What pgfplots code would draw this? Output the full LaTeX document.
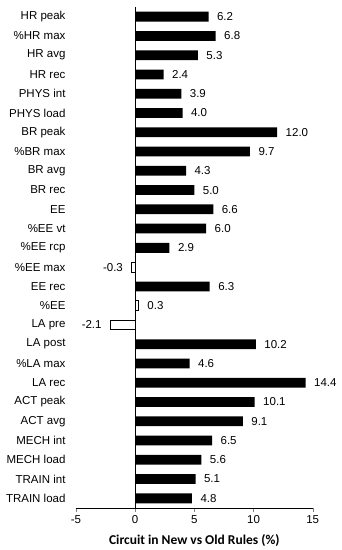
\documentclass[border=0pt]{standalone}
\usepackage{fontspec}
\setmainfont{Liberation Sans}
\newfontfamily\carlito{Carlito}
\usepackage{pgfplots}
\usepackage{pgfplotstable}
\pgfplotsset{compat=1.18}
% y position (25 = top), value
\pgfplotstableread{
y v
25 6.2
24 6.8
23 5.3
22 2.4
21 3.9
20 4.0
19 12.0
18 9.7
17 4.3
16 5.0
15 6.6
14 6.0
13 2.9
11 6.3
8 10.2
7 4.6
6 14.4
5 10.1
4 9.1
3 6.5
2 5.6
1 5.1
0 4.8
}\blackdata
\pgfplotstableread{
y v
10 0.3
}\whitesmall
\pgfplotstableread{
y v
12 -0.3
9 -2.1
}\whiteneg
\begin{document}
\begin{tikzpicture}
\begin{axis}[
  at={(76pt,42pt)}, anchor=south west,
  scale only axis, width=236.7pt, height=501pt,
  xmin=-5, xmax=15, ymin=-0.5, ymax=25.5,
  axis lines*=left,
  y axis line style={draw=none},
  ytick style={draw=none},
  xtick={-5,0,5,10,15},
  tick align=outside,
  major tick length=4pt,
  ytick={0,...,25},
  yticklabels={TRAIN load, TRAIN int, MECH load, MECH int, ACT avg, ACT peak, LA rec, \%LA max, LA post, LA pre, \%EE, EE rec, \%EE max, \%EE rcp, \%EE vt, EE, BR rec, BR avg, \%BR max, BR peak, PHYS load, PHYS int, HR rec, HR avg, \%HR max, HR peak},
  yticklabel style={font=\fontsize{11.5}{13}\selectfont, xshift=-3pt},
  xticklabel style={font=\fontsize{11.5}{13}\selectfont},
  /pgf/number format/assume math mode=true,
  xlabel={\carlito\bfseries Circuit in New vs Old Rules (\%)},
  xlabel style={font=\fontsize{13.5}{15}\selectfont, yshift=-4pt},
  xbar, bar width=9.8pt, bar shift=0pt,
  point meta=x,
  nodes near coords={\pgfmathprintnumber[fixed,fixed zerofill,precision=1,assume math mode=true]{\pgfplotspointmeta}},
  every node near coord/.append style={font=\fontsize{11.5}{13}\selectfont, anchor=west, xshift=5pt},
  clip=false,
]
\addplot[fill=black, draw=none] table[x=v, y=y] {\blackdata};
\addplot[fill=white, draw=black, line width=0.8pt] table[x=v, y=y] {\whitesmall};
\addplot[fill=white, draw=black, line width=0.8pt, every node near coord/.append style={anchor=east, xshift=-10pt}] table[x=v, y=y] {\whiteneg};
\draw[black, line width=0.9pt] (axis cs:0,-0.5) -- (axis cs:0,25.5);
\end{axis}
\pgfresetboundingbox
\path[use as bounding box] (0,0) rectangle (341pt,550pt);
\end{tikzpicture}
\end{document}
